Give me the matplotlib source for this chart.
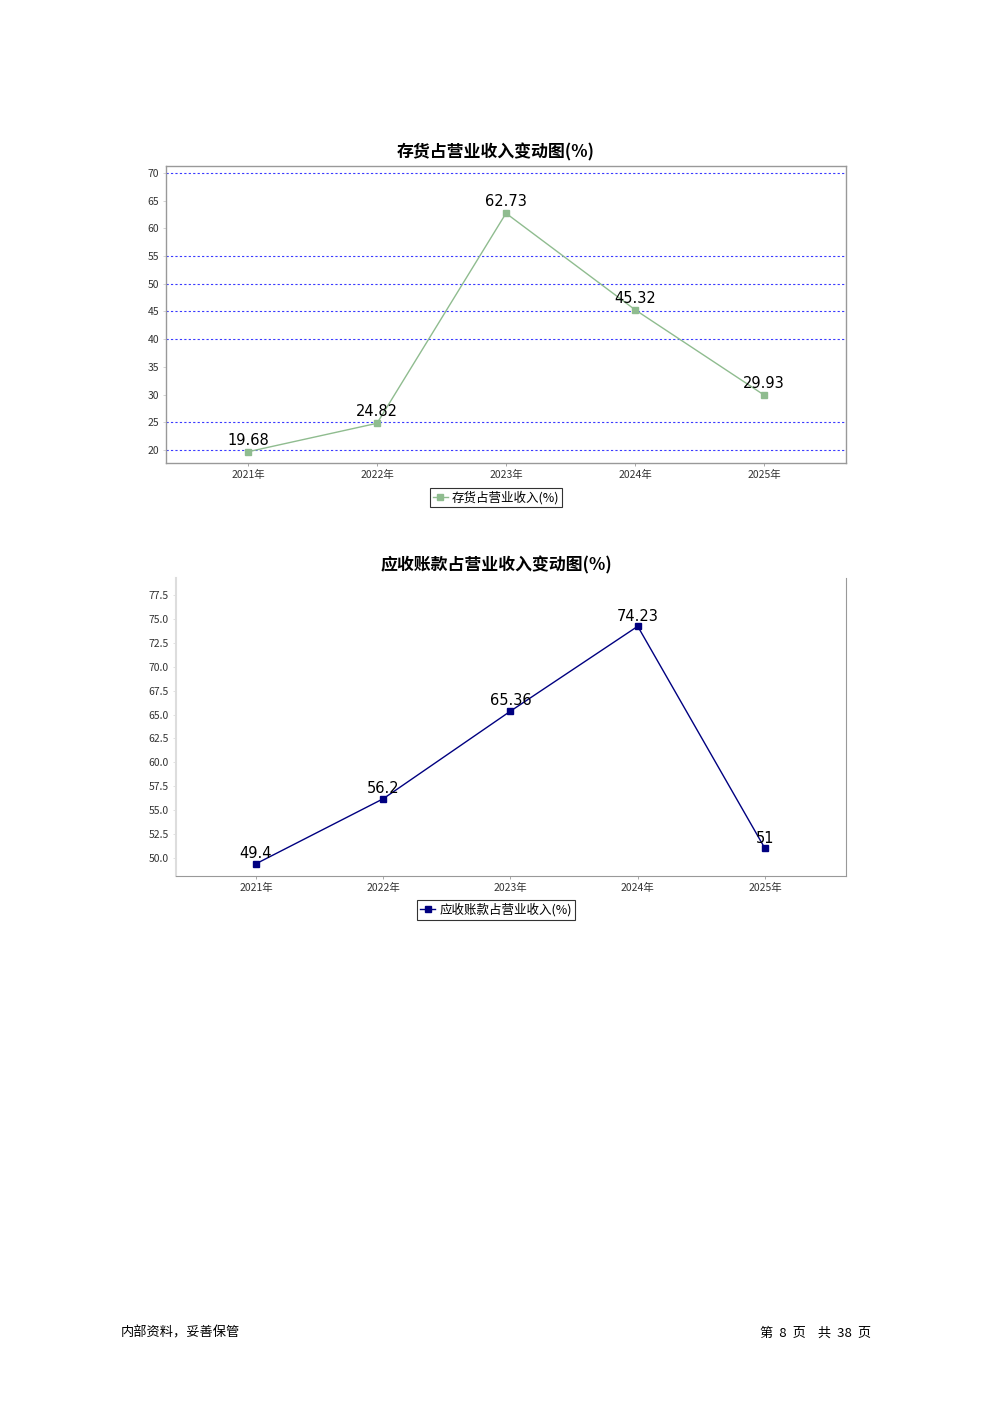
import matplotlib
matplotlib.use("Agg")
import matplotlib.pyplot as plt
from matplotlib.lines import Line2D

plt.rcParams['font.family'] = ['Noto Sans CJK SC', 'DejaVu Sans']

years = ["2021年", "2022年", "2023年", "2024年", "2025年"]
inventory_ratio = [19.68, 24.82, 62.73, 45.32, 29.93]
receivable_ratio = [49.4, 56.2, 65.36, 74.23, 51]
inventory_labels = ["19.68", "24.82", "62.73", "45.32", "29.93"]
receivable_labels = ["49.4", "56.2", "65.36", "74.23", "51"]
title1 = "存货占营业收入变动图(%)"
title2 = "应收账款占营业收入变动图(%)"
legend1 = "存货占营业收入(%)"
legend2 = "应收账款占营业收入(%)"
yticks1 = [20, 25, 30, 35, 40, 45, 50, 55, 60, 65, 70]
grid1 = [20, 25, 40, 45, 50, 55, 70]
yticks2 = [50.0, 52.5, 55.0, 57.5, 60.0, 62.5, 65.0, 67.5, 70.0, 72.5, 75.0, 77.5]

W, H = 992, 1403
fig = plt.figure(figsize=(W / 100, H / 100), dpi=100)

def ax_at(l, t, r, b):
    return fig.add_axes([l / W, 1 - b / H, (r - l) / W, (b - t) / H])

green = "#8fbc8f"
navy = "#000080"
x = list(range(len(years)))

# ---- Chart 1 ----
ax1 = ax_at(166, 166, 846, 463)
ax1.set_xlim(-0.636, 4.636)
ax1.set_ylim(17.65, 71.26)
for g in grid1:
    ax1.axhline(g, color="#3a3aff", lw=0.8, ls=(0, (2, 2)), zorder=1)
ax1.plot(x, inventory_ratio, color=green, lw=1.0, marker="s", ms=5,
         mfc=green, mec=green, zorder=3)
for xi, v, lab in zip(x, inventory_ratio, inventory_labels):
    ax1.annotate(lab, (xi, v), xytext=(0, 3), textcoords="offset points",
                 ha="center", va="bottom", fontsize=10.5, color="black",
                 family=["DejaVu Sans"])
ax1.set_yticks(yticks1)
ax1.set_yticklabels([str(t) for t in yticks1])
ax1.set_xticks(x)
ax1.set_xticklabels(years)
for sp in ax1.spines.values():
    sp.set_color("#999999")
    sp.set_linewidth(1.0)
ax1.tick_params(axis="both", labelsize=7.5, length=2, width=0.6, pad=3)
ax1.tick_params(axis="y", colors="#cccccc", labelcolor="#333333")
ax1.tick_params(axis="x", colors="#999999", labelcolor="#333333")
fig.text(496 / W, 1 - 152 / H, title1, ha="center", va="center",
         fontsize=12.2, fontweight="bold")
h1 = Line2D([], [], color=green, lw=1.0, marker="s", ms=5, mfc=green, mec=green)
leg1 = fig.legend([h1], [legend1], loc="center", bbox_to_anchor=(496 / W, 1 - 497.5 / H),
                  fontsize=9, frameon=True, fancybox=False, edgecolor="black",
                  handlelength=1.2, handletextpad=0.3, borderpad=0.25,
                  borderaxespad=0)
leg1.get_frame().set_linewidth(0.8)

# ---- Chart 2 ----
ax2 = ax_at(176, 578, 846, 876)
ax2.set_xlim(-0.629, 4.637)
ax2.set_ylim(48.12, 79.28)
ax2.plot(x, receivable_ratio, color=navy, lw=1.0, marker="s", ms=5,
         mfc=navy, mec=navy, zorder=3)
for xi, v, lab in zip(x, receivable_ratio, receivable_labels):
    ax2.annotate(lab, (xi, v), xytext=(0, 2), textcoords="offset points",
                 ha="center", va="bottom", fontsize=10.5, color="black",
                 family=["DejaVu Sans"])
ax2.set_yticks(yticks2)
ax2.set_yticklabels([f"{t:.1f}" for t in yticks2])
ax2.set_xticks(x)
ax2.set_xticklabels(years)
ax2.spines["top"].set_visible(False)
ax2.spines["left"].set_color("#dddddd")
ax2.spines["left"].set_linewidth(1.5)
ax2.spines["right"].set_color("#999999")
ax2.spines["bottom"].set_color("#999999")
ax2.tick_params(axis="both", labelsize=7.5, length=2, width=0.6, pad=3)
ax2.tick_params(axis="y", colors="#dddddd", labelcolor="#333333")
ax2.tick_params(axis="x", colors="#999999", labelcolor="#333333")
fig.text(496 / W, 1 - 565 / H, title2, ha="center", va="center",
         fontsize=12.2, fontweight="bold")
h2 = Line2D([], [], color=navy, lw=1.0, marker="s", ms=5, mfc=navy, mec=navy)
leg2 = fig.legend([h2], [legend2], loc="center", bbox_to_anchor=(496 / W, 1 - 910 / H),
                  fontsize=9, frameon=True, fancybox=False, edgecolor="black",
                  handlelength=1.2, handletextpad=0.3, borderpad=0.25,
                  borderaxespad=0)
leg2.get_frame().set_linewidth(0.8)

# ---- Footer ----
fig.text(121 / W, 1 - 1333 / H, "内部资料，妥善保管", ha="left", va="center", fontsize=9.5)
fig.text(871 / W, 1 - 1333 / H, "第  8  页    共  38  页", ha="right", va="center", fontsize=9.5)

fig.savefig("out.png", dpi=100, facecolor="white")
